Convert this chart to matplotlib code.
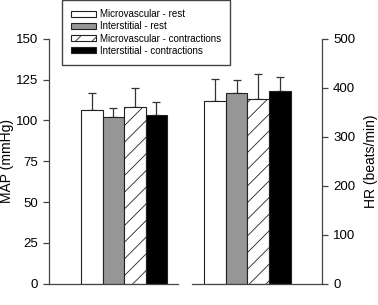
import matplotlib
matplotlib.use("Agg")
import matplotlib.pyplot as plt
import numpy as np

plt.rcParams['font.family'] = ['Liberation Sans', 'DejaVu Sans']

labels = ['Microvascular - rest', 'Interstitial - rest',
          'Microvascular - contractions', 'Interstitial - contractions']
map_mean = [106.5, 102.0, 108.0, 103.0]
map_sd = [10.3, 5.4, 11.6, 8.3]
hr_mean = [372, 389, 376, 394]
hr_sd = [45, 26, 52, 28]

colors = ['white', '#969696', 'white', 'black']
hatches = [None, None, '//', None]

W, H = 378, 305
fig = plt.figure(figsize=(W / 100, H / 100), dpi=100)
plt.rcParams['hatch.linewidth'] = 0.6

ax1 = fig.add_axes([49 / W, (H - 283.7) / H, (178 - 49) / W, 245 / H])
ax2 = fig.add_axes([192 / W, (H - 283.7) / H, (322 - 192) / W, 245 / H])

x = np.arange(4)
bars = []
for ax, mean, sd in [(ax1, map_mean, map_sd), (ax2, hr_mean, hr_sd)]:
    for i in range(4):
        b = ax.bar(x[i], mean[i], width=1.0, color=colors[i], edgecolor='#222222',
                   linewidth=0.8, hatch=hatches[i], label=labels[i], zorder=2)
        ax.errorbar(x[i], mean[i], yerr=[[0], [sd[i]]], fmt='none', ecolor='#333333',
                    elinewidth=0.9, capsize=3, capthick=0.9, zorder=1)
        if ax is ax1:
            bars.append(b)

ax1.set_xlim(-1.99, 4.01)
ax1.set_ylim(0, 150)
ax1.set_yticks([0, 25, 50, 75, 100, 125, 150])
ax1.spines['top'].set_visible(False)
ax1.spines['right'].set_visible(False)
ax1.set_xticks([])
ax1.set_ylabel('MAP (mmHg)', fontsize=10)
ax1.yaxis.set_label_coords((14 - 49) / 129, 0.5)

ax2.set_xlim(-1.05, 4.93)
ax2.set_ylim(0, 500)
ax2.set_yticks([0, 100, 200, 300, 400, 500])
ax2.spines['top'].set_visible(False)
ax2.spines['left'].set_visible(False)
ax2.yaxis.tick_right()
ax2.yaxis.set_label_position('right')
ax2.set_xticks([])
ax2.set_ylabel('HR (beats/min)', fontsize=10, rotation=90)
ax2.yaxis.set_label_coords((364 - 192) / 130, 0.5)

for ax in (ax1, ax2):
    for s in ax.spines.values():
        s.set_linewidth(0.9)
        s.set_color('#444444')
    ax.tick_params(axis='y', labelsize=9.5, length=4, width=0.9, color='#444444', pad=4)

fig.legend(handles=bars, labels=labels, loc='upper left',
           bbox_to_anchor=(62 / W, 1.0), fontsize=7, frameon=True,
           fancybox=False, edgecolor='#444444', framealpha=1,
           handlelength=2.5, handleheight=0.65, labelspacing=0.22,
           borderpad=0.95, handletextpad=0.45, borderaxespad=0)

fig.savefig('out.png', dpi=100)
